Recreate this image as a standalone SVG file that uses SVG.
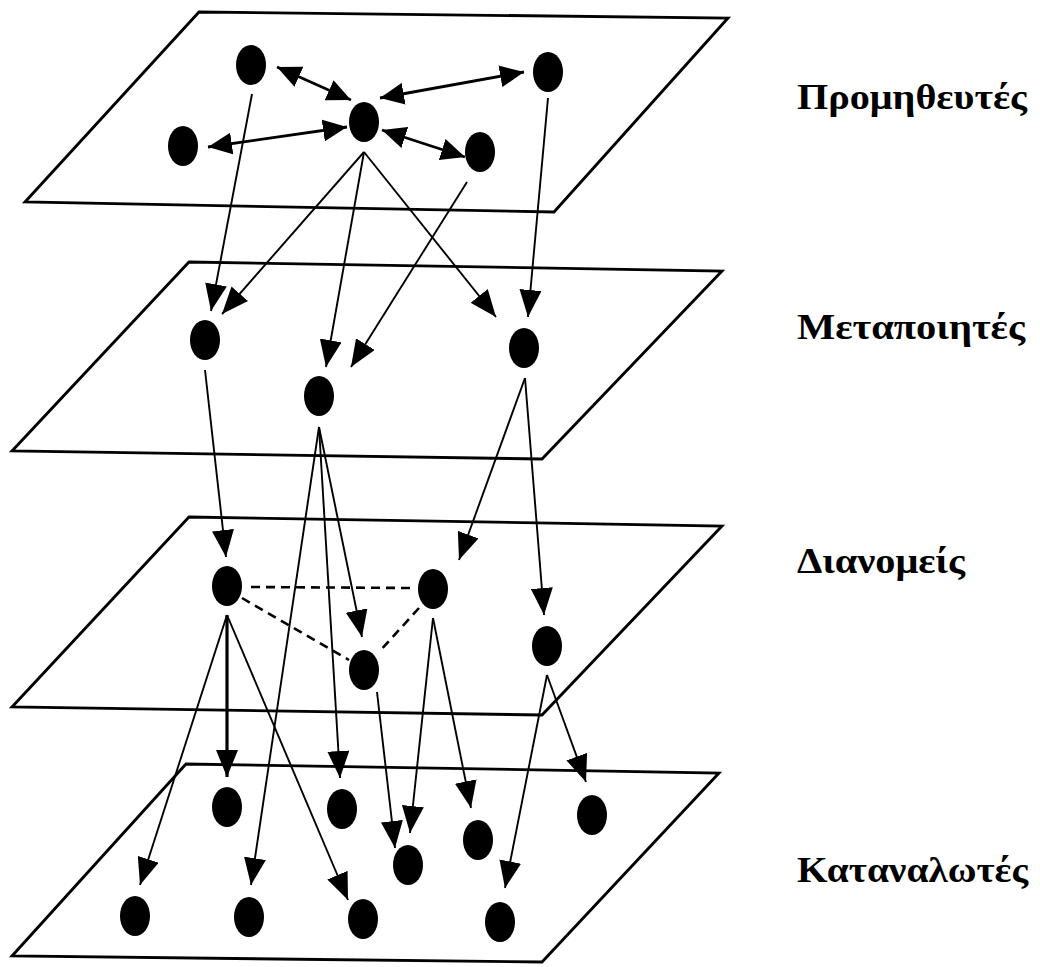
<svg xmlns="http://www.w3.org/2000/svg" width="1040" height="967" viewBox="0 0 1040 967">
  <style>
    .plane { fill: none; stroke: #000; stroke-width: 2.8; stroke-linejoin: miter; }
    .node { fill: #000; }
    .link { fill: none; stroke: #000; stroke-width: 1.9; marker-end: url(#head); }
    .link.bold { stroke-width: 3.2; }
    .both { fill: none; stroke: #000; stroke-width: 2.8; marker-start: url(#headS); marker-end: url(#headS); }
    .dash { fill: none; stroke: #000; stroke-width: 2.6; stroke-dasharray: 9 6; }
    .label { font-family: "Liberation Serif", "DejaVu Serif", serif; font-weight: bold; font-size: 36px; fill: #000; }
  </style>
  <defs>
    <marker id="head" markerUnits="userSpaceOnUse" markerWidth="27" markerHeight="22" refX="27" refY="11" orient="auto">
      <path d="M0,0 L27,11 L0,22 Z" fill="#000"/>
    </marker>
    <marker id="headS" markerUnits="userSpaceOnUse" markerWidth="24" markerHeight="22" refX="24" refY="11" orient="auto-start-reverse">
      <path d="M0,0 L24,11 L0,22 Z" fill="#000"/>
    </marker>
  </defs>

  <rect width="1040" height="967" fill="#fff"/>

  <!-- layer planes -->
  <g id="planes">
    <polygon id="plane-suppliers" class="plane" points="199,12 728,18 554,212 25,202"/>
    <polygon id="plane-manufacturers" class="plane" points="189,262 722,271 542,459 12,451"/>
    <polygon id="plane-distributors" class="plane" points="189,517 722,526 542,715 12,707"/>
    <polygon id="plane-consumers" class="plane" points="186,764 719,773 542,962 12,956"/>
  </g>

  <!-- connectors -->
  <g id="connectors">
    <!-- exchanges among suppliers -->
    <line class="both" x1="277" y1="67" x2="351" y2="100"/>
    <line class="both" x1="524" y1="72" x2="380" y2="98"/>
    <line class="both" x1="208" y1="147" x2="347" y2="127"/>
    <line class="both" x1="382" y1="130" x2="465" y2="157"/>

    <!-- suppliers to manufacturers -->
    <line class="link" x1="252" y1="94" x2="211" y2="311"/>
    <line class="link" x1="364" y1="152" x2="222" y2="314"/>
    <line class="link" x1="364" y1="152" x2="326" y2="367"/>
    <line class="link" x1="467" y1="182" x2="351" y2="367"/>
    <line class="link" x1="364" y1="152" x2="496" y2="317"/>
    <line class="link" x1="548" y1="98" x2="528" y2="317"/>

    <!-- manufacturers to distributors / consumers -->
    <line class="link" x1="205" y1="370" x2="226" y2="557"/>
    <line class="link" x1="525" y1="378" x2="459" y2="560"/>
    <line class="link" x1="525" y1="378" x2="544" y2="615"/>
    <line class="link" x1="319" y1="427" x2="362" y2="637"/>
    <line class="link" x1="319" y1="427" x2="340" y2="778"/>
    <line class="link" x1="319" y1="427" x2="251" y2="885"/>

    <!-- links between distributors -->
    <line class="dash" x1="251" y1="587" x2="412" y2="588"/>
    <line class="dash" x1="242" y1="598" x2="349" y2="660"/>
    <line class="dash" x1="419" y1="608" x2="379" y2="652"/>

    <!-- distributors to consumers -->
    <line class="link bold" x1="227" y1="615" x2="227" y2="777"/>
    <line class="link" x1="227" y1="615" x2="140" y2="885"/>
    <line class="link" x1="227" y1="615" x2="348" y2="900"/>
    <line class="link" x1="377" y1="692" x2="395" y2="848"/>
    <line class="link" x1="433" y1="618" x2="410" y2="833"/>
    <line class="link" x1="433" y1="618" x2="471" y2="808"/>
    <line class="link" x1="547" y1="675" x2="586" y2="782"/>
    <line class="link" x1="547" y1="675" x2="505" y2="888"/>
  </g>

  <!-- suppliers -->
  <g id="supplier-1"><ellipse class="node" cx="251" cy="65" rx="15" ry="20"/></g>
  <g id="supplier-2"><ellipse class="node" cx="548" cy="72" rx="15" ry="20"/></g>
  <g id="supplier-3"><ellipse class="node" cx="364" cy="122" rx="15" ry="20"/></g>
  <g id="supplier-4"><ellipse class="node" cx="183" cy="146" rx="15" ry="20"/></g>
  <g id="supplier-5"><ellipse class="node" cx="480" cy="152" rx="15" ry="20"/></g>

  <!-- manufacturers -->
  <g id="manufacturer-1"><ellipse class="node" cx="205" cy="340" rx="15" ry="20"/></g>
  <g id="manufacturer-2"><ellipse class="node" cx="319" cy="396" rx="15" ry="20"/></g>
  <g id="manufacturer-3"><ellipse class="node" cx="524" cy="348" rx="15" ry="20"/></g>

  <!-- distributors -->
  <g id="distributor-1"><ellipse class="node" cx="227" cy="586" rx="15" ry="20"/></g>
  <g id="distributor-2"><ellipse class="node" cx="433" cy="589" rx="15" ry="20"/></g>
  <g id="distributor-3"><ellipse class="node" cx="364" cy="670" rx="15" ry="20"/></g>
  <g id="distributor-4"><ellipse class="node" cx="547" cy="646" rx="15" ry="20"/></g>

  <!-- consumers -->
  <g id="consumer-1"><ellipse class="node" cx="227" cy="807" rx="15" ry="20"/></g>
  <g id="consumer-2"><ellipse class="node" cx="342" cy="809" rx="15" ry="20"/></g>
  <g id="consumer-3"><ellipse class="node" cx="478" cy="840" rx="15" ry="20"/></g>
  <g id="consumer-4"><ellipse class="node" cx="592" cy="815" rx="15" ry="20"/></g>
  <g id="consumer-5"><ellipse class="node" cx="408" cy="865" rx="15" ry="20"/></g>
  <g id="consumer-6"><ellipse class="node" cx="135" cy="916" rx="15" ry="20"/></g>
  <g id="consumer-7"><ellipse class="node" cx="249" cy="917" rx="15" ry="20"/></g>
  <g id="consumer-8"><ellipse class="node" cx="363" cy="919" rx="15" ry="20"/></g>
  <g id="consumer-9"><ellipse class="node" cx="500" cy="922" rx="15" ry="20"/></g>

  <!-- layer names -->
  <g id="labels">
    <text class="label" x="797" y="109" textLength="230" lengthAdjust="spacingAndGlyphs">Προμηθευτές</text>
    <text class="label" x="797" y="339" textLength="228" lengthAdjust="spacingAndGlyphs">Μεταποιητές</text>
    <text class="label" x="797" y="573" textLength="168" lengthAdjust="spacingAndGlyphs">Διανομείς</text>
    <text class="label" x="797" y="882" textLength="231" lengthAdjust="spacingAndGlyphs">Καταναλωτές</text>
  </g>
</svg>
